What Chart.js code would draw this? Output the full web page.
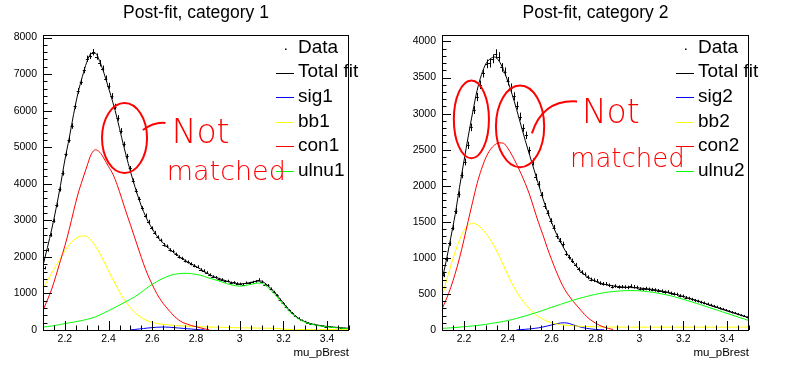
<!DOCTYPE html>
<html>
<head>
<meta charset="utf-8">
<title>Post-fit</title>
<script src="https://cdn.jsdelivr.net/npm/chart.js@4.4.1/dist/chart.umd.min.js"></script>
<style>
body { margin: 0; background: #fff; }
.pad { position: absolute; top: 0; width: 396px; height: 367px; }
</style>
</head>
<body>
<div class="pad" style="left:0"><canvas id="cat1"></canvas></div>
<div class="pad" style="left:396px"><canvas id="cat2"></canvas></div>
<script>

/*
========================================
DATA
========================================
*/

// x sampling of the fitted curves (mu_pBrest)
const xFit = [
  2.10, 2.12, 2.14, 2.16, 2.18, 2.20, 2.22, 2.24, 2.26, 2.28,
  2.30, 2.32, 2.34, 2.36, 2.38, 2.40, 2.42, 2.44, 2.46, 2.48,
  2.50, 2.52, 2.54, 2.56, 2.58, 2.60, 2.62, 2.64, 2.66, 2.68,
  2.70, 2.72, 2.74, 2.76, 2.78, 2.80, 2.82, 2.84, 2.86, 2.88,
  2.90, 2.92, 2.94, 2.96, 2.98, 3.00, 3.02, 3.04, 3.06, 3.08,
  3.10, 3.12, 3.14, 3.16, 3.18, 3.20, 3.22, 3.24, 3.26, 3.28,
  3.30, 3.32, 3.34, 3.36, 3.38, 3.40, 3.42, 3.44, 3.46, 3.48, 3.50
];

// bin centres of the data histogram
const xBins = [
  2.107, 2.121, 2.135, 2.149, 2.163, 2.177, 2.191, 2.205, 2.219, 2.233,
  2.247, 2.261, 2.275, 2.289, 2.303, 2.317, 2.331, 2.345, 2.359, 2.373,
  2.387, 2.401, 2.415, 2.429, 2.443, 2.457, 2.471, 2.485, 2.499, 2.513,
  2.527, 2.541, 2.555, 2.569, 2.583, 2.597, 2.611, 2.625, 2.639, 2.653,
  2.667, 2.681, 2.695, 2.709, 2.723, 2.737, 2.751, 2.765, 2.779, 2.793,
  2.807, 2.821, 2.835, 2.849, 2.863, 2.877, 2.891, 2.905, 2.919, 2.933,
  2.947, 2.961, 2.975, 2.989, 3.003, 3.017, 3.031, 3.045, 3.059, 3.073,
  3.087, 3.101, 3.115, 3.129, 3.143, 3.157, 3.171, 3.185, 3.199, 3.213,
  3.227, 3.241, 3.255, 3.269, 3.283, 3.297, 3.311, 3.325, 3.339, 3.353,
  3.367, 3.381, 3.395, 3.409, 3.423, 3.437, 3.451, 3.465, 3.479, 3.493
];

// tick labels
const xTicks = [2.2, 2.4, 2.6, 2.8, 3.0, 3.2, 3.4];
const xTickLabels = ["2.2", "2.4", "2.6", "2.8", "3", "3.2", "3.4"];
const yTicks1 = [0, 1000, 2000, 3000, 4000, 5000, 6000, 7000, 8000];
const yTicks2 = [0, 500, 1000, 1500, 2000, 2500, 3000, 3500, 4000];

// category 1
const data1 = [
  1700, 2190, 2600, 2990, 3420, 3850, 4290, 4820, 5200, 5580,
  6120, 6540, 6790, 7110, 7420, 7500, 7600, 7480, 7300, 7150,
  6880, 6680, 6400, 6110, 5800, 5450, 5080, 4750, 4420, 4080,
  3800, 3580, 3330, 3130, 2960, 2780, 2660, 2540, 2450, 2330,
  2290, 2190, 2150, 2070, 2000, 1960, 1890, 1860, 1810, 1760,
  1730, 1650, 1620, 1570, 1510, 1460, 1440, 1390, 1380, 1330,
  1340, 1290, 1300, 1270, 1260, 1240, 1290, 1280, 1310, 1330,
  1380, 1320, 1240, 1220, 1130, 1040, 950, 830, 740, 640,
  540, 470, 380, 330, 270, 235, 200, 170, 160, 130,
  125, 110, 95, 98, 85, 72, 70, 62, 55, 48
];
const total1 = [
  1760, 2250, 2760, 3330, 3960, 4650, 5250, 5900, 6480, 6930,
  7320, 7560, 7570, 7340, 7010, 6620, 6220, 5770, 5260, 4780,
  4340, 3930, 3560, 3240, 2980, 2770, 2580, 2440, 2320, 2210,
  2110, 2020, 1940, 1870, 1800, 1740, 1670, 1590, 1520, 1460,
  1420, 1380, 1340, 1300, 1275, 1260, 1270, 1290, 1315, 1340,
  1335, 1260, 1150, 1030, 885, 735, 590, 465, 360, 280,
  225, 183, 152, 130, 112, 97, 84, 74, 64, 54, 47
];
const sig1 = [
  null, null, null, null, null, null, null, null, null, null,
  null, null, null, null, null, null, null, null, null, null,
  3, 15, 28, 40, 55, 65, 75, 80, 80, 75,
  65, 55, 45, 35, 25, 15, 8, 3, null, null,
  null, null, null, null, null, null, null, null, null, null,
  null, null, null, null, null, null, null, null, null, null,
  null, null, null, null, null, null, null, null, null, null, null
];
const bb1 = [
  1140, 1350, 1560, 1760, 1960, 2170, 2330, 2460, 2540, 2575,
  2560, 2450, 2290, 2090, 1860, 1620, 1380, 1150, 940, 760,
  610, 480, 380, 300, 245, 205, 180, 160, 145, 135,
  125, 118, 112, 106, 100, 95, 90, 86, 82, 78,
  75, 72, 69, 66, 63, 61, 59, 57, 55, 53,
  51, 49, 47, 45, 38, 25, 18, 14, 12, 12,
  12, 12, 12, 12, 12, 12, 12, 12, 12, 12, 12
];
const con1 = [
  540, 820, 1120, 1500, 1900, 2300, 2750, 3250, 3720, 4100,
  4460, 4800, 4930, 4860, 4680, 4470, 4260, 3960, 3600, 3230,
  2880, 2520, 2160, 1810, 1500, 1240, 1000, 810, 650, 510,
  380, 280, 205, 160, 120, 90, 60, 30, 8, null,
  null, null, null, null, null, null, null, null, null, null,
  null, null, null, null, null, null, null, null, null, null,
  null, null, null, null, null, null, null, null, null, null, null
];
const ulnu1 = [
  80, 95, 110, 130, 150, 175, 195, 215, 240, 260,
  290, 320, 360, 410, 470, 530, 590, 650, 715, 780,
  840, 910, 990, 1080, 1170, 1250, 1320, 1390, 1440, 1490,
  1520, 1540, 1550, 1550, 1540, 1520, 1500, 1460, 1420, 1385,
  1350, 1310, 1270, 1235, 1210, 1200, 1210, 1235, 1260, 1285,
  1280, 1210, 1100, 980, 840, 700, 560, 440, 340, 265,
  210, 170, 140, 118, 100, 85, 72, 62, 52, 42, 35
];

// category 2
const data2 = [
  760, 980, 1200, 1420, 1650, 1880, 2150, 2330, 2560, 2810,
  3050, 3230, 3400, 3560, 3690, 3700, 3760, 3830, 3790, 3640,
  3580, 3450, 3360, 3240, 3110, 2960, 2800, 2700, 2490, 2330,
  2120, 2020, 1870, 1720, 1620, 1510, 1420, 1300, 1240, 1190,
  1060, 1010, 960, 900, 840, 800, 770, 730, 700, 690,
  680, 650, 640, 640, 620, 600, 610, 595, 600, 595,
  590, 610, 600, 590, 570, 565, 575, 565, 560, 555,
  545, 540, 525, 530, 510, 500, 495, 475, 470, 450,
  440, 425, 410, 400, 385, 375, 360, 345, 330, 320,
  300, 290, 275, 260, 245, 235, 220, 205, 195, 175
];
const total2 = [
  690, 970, 1280, 1600, 1980, 2340, 2690, 3020, 3320, 3540,
  3690, 3760, 3785, 3730, 3610, 3450, 3265, 3060, 2840, 2625,
  2420, 2220, 2020, 1825, 1650, 1490, 1345, 1225, 1110, 1015,
  935, 860, 795, 745, 705, 675, 652, 635, 622, 612,
  604, 598, 593, 589, 585, 581, 576, 570, 562, 553,
  542, 530, 516, 500, 483, 465, 447, 429, 410, 390,
  370, 350, 330, 310, 290, 270, 250, 230, 210, 190, 170
];
const sig2 = [
  null, null, null, null, null, null, null, null, null, null,
  null, null, null, null, null, null, null, 2, 5, 10,
  15, 22, 30, 42, 55, 70, 85, 97, 100, 90,
  70, 50, 35, 22, 14, 8, 4, 2, null, null,
  null, null, null, null, null, null, null, null, null, null,
  null, null, null, null, null, null, null, null, null, null,
  null, null, null, null, null, null, null, null, null, null, null
];
const bb2 = [
  460, 680, 890, 1080, 1250, 1380, 1455, 1480, 1460, 1410,
  1340, 1255, 1150, 1030, 900, 765, 640, 530, 440, 360,
  290, 230, 185, 150, 120, 100, 85, 75, 68, 62,
  57, 53, 50, 48, 46, 44, 43, 42, 41, 41,
  40, 40, 40, 40, 40, 40, 40, 40, 40, 40,
  40, 40, 40, 40, 40, 40, 40, 40, 40, 40,
  40, 40, 40, 40, 40, 40, 40, 40, 40, 40, 40
];
const con2 = [
  290, 430, 590, 780, 1000, 1250, 1520, 1780, 2030, 2230,
  2390, 2500, 2565, 2595, 2590, 2520, 2420, 2300, 2170, 2030,
  1870, 1680, 1490, 1320, 1140, 975, 820, 680, 560, 470,
  390, 320, 250, 185, 135, 95, 62, 38, 20, 8,
  null, null, null, null, null, null, null, null, null, null,
  null, null, null, null, null, null, null, null, null, null,
  null, null, null, null, null, null, null, null, null, null, null
];
const ulnu2 = [
  22, 26, 30, 35, 40, 45, 51, 57, 63, 70,
  78, 88, 98, 108, 118, 132, 145, 160, 178, 195,
  213, 232, 252, 272, 293, 315, 335, 355, 375, 395,
  415, 433, 450, 465, 480, 495, 507, 517, 526, 533,
  539, 543, 546, 547, 546, 543, 538, 531, 523, 513,
  502, 490, 476, 460, 443, 425, 407, 389, 370, 350,
  330, 310, 290, 270, 250, 230, 210, 190, 170, 150, 130
];

// hand-written marks (data coordinates): ellipse = [cx, cy, rx, ry]
const marks1 = {
  ellipses: [[2.473, 5253, 0.103, 957]],
  stroke: [[2.557, 5472], [2.61, 5700], [2.66, 5664]],
  words: [["Not", 2.689, 5116, 33], ["matched", 2.666, 4104, 27]]
};
const marks2 = {
  ellipses: [[2.234, 2920, 0.080, 540], [2.456, 2823, 0.110, 567]],
  stroke: [[2.510, 2726], [2.56, 3200], [2.716, 3169]],
  words: [["Not", 2.738, 2865, 33], ["matched", 2.684, 2256, 26]]
};


/*
========================================
HELPERS
========================================
*/

const FONT = "'Liberation Sans', Arial, sans-serif";
const HAND = "200 {s}px 'DejaVu Sans', 'Liberation Sans', sans-serif";

function toPoints(xs, ys) {
  return xs.map(function(x, i) { return { x: x, y: ys[i] }; });
}

// ROOT look: frame, inside ticks, title, legend, error bars
function rootLook(cfg) {
  return {
    id: "rootLook",

    beforeDatasetsDraw(chart) {
      const ctx = chart.ctx;
      const a = chart.chartArea;
      const sx = chart.scales.x;
      const sy = chart.scales.y;
      ctx.save();
      ctx.beginPath();
      ctx.rect(a.left, a.top, a.right - a.left, a.bottom - a.top);
      ctx.clip();
      ctx.strokeStyle = "#000";
      ctx.lineWidth = 1;
      chart.data.datasets.forEach(function(ds) {
        if (!ds.errorBars) return;
        ctx.beginPath();
        ds.data.forEach(function(p) {
          const e = Math.sqrt(p.y);
          const px = Math.round(sx.getPixelForValue(p.x)) + 0.5;
          const py = Math.round(sy.getPixelForValue(p.y)) + 0.5;
          ctx.moveTo(px, sy.getPixelForValue(p.y - e));
          ctx.lineTo(px, sy.getPixelForValue(p.y + e));
          ctx.moveTo(sx.getPixelForValue(p.x - ds.halfBin), py);
          ctx.lineTo(sx.getPixelForValue(p.x + ds.halfBin), py);
        });
        ctx.stroke();
      });
      ctx.restore();
    },

    afterDraw(chart) {
      const ctx = chart.ctx;
      const a = chart.chartArea;
      const sx = chart.scales.x;
      const sy = chart.scales.y;
      ctx.save();

      // frame
      ctx.strokeStyle = "#000";
      ctx.lineWidth = 1;
      ctx.strokeRect(a.left + 0.5, a.top + 0.5, a.right - a.left - 1, a.bottom - a.top);

      // ticks inside the frame
      ctx.beginPath();
      for (let k = 0; ; k++) {
        const v = sx.min + k * 0.05;
        if (v > sx.max + 1e-9) break;
        const major = Math.abs(v / 0.2 - Math.round(v / 0.2)) < 1e-6;
        const px = Math.round(sx.getPixelForValue(v)) + 0.5;
        ctx.moveTo(px, a.bottom);
        ctx.lineTo(px, a.bottom - (major ? 9 : 4.5));
      }
      for (let k = 0; ; k++) {
        const v = k * cfg.yMinor;
        if (v > sy.max) break;
        const major = v % cfg.yMajor === 0;
        const py = Math.round(sy.getPixelForValue(v)) + 0.5;
        ctx.moveTo(a.left, py);
        ctx.lineTo(a.left + (major ? 9 : 4.5), py);
      }
      ctx.stroke();

      // title
      ctx.fillStyle = "#000";
      ctx.font = "17.5px " + FONT;
      ctx.textAlign = "center";
      ctx.textBaseline = "alphabetic";
      ctx.fillText(cfg.title, (a.left + a.right) / 2, 17.5);

      // axis title
      ctx.font = "11.5px " + FONT;
      ctx.textAlign = "right";
      ctx.fillText("mu_pBrest", a.right, 355.5);

      // legend
      ctx.font = "19px " + FONT;
      ctx.textAlign = "left";
      chart.data.datasets.forEach(function(ds, i) {
        const yc = a.top + 11 + i * 24.6;
        const ly = Math.round(yc + 2) + 0.5;
        if (ds.errorBars) {
          ctx.fillStyle = "#000";
          ctx.fillRect(a.right - 64, yc + 2.5, 1.5, 1.5);
        } else {
          ctx.strokeStyle = ds.borderColor;
          ctx.beginPath();
          ctx.moveTo(a.right - 73, ly);
          ctx.lineTo(a.right - 55, ly);
          ctx.stroke();
        }
        ctx.fillStyle = "#000";
        ctx.fillText(ds.label, a.right - 51, yc + 6.8);
      });

      // red hand-written remarks
      const m = cfg.marks;
      ctx.strokeStyle = "#f00";
      ctx.fillStyle = "#f00";
      ctx.lineWidth = 2;
      m.ellipses.forEach(function(e) {
        const cx = sx.getPixelForValue(e[0]);
        const cy = sy.getPixelForValue(e[1]);
        const rx = Math.abs(sx.getPixelForValue(e[0] + e[2]) - cx);
        const ry = Math.abs(sy.getPixelForValue(e[1] + e[3]) - cy);
        ctx.beginPath();
        ctx.ellipse(cx, cy, rx, ry, 0, 0, Math.PI * 2);
        ctx.stroke();
      });
      const s = m.stroke;
      ctx.beginPath();
      ctx.moveTo(sx.getPixelForValue(s[0][0]), sy.getPixelForValue(s[0][1]));
      ctx.quadraticCurveTo(
        sx.getPixelForValue(s[1][0]), sy.getPixelForValue(s[1][1]),
        sx.getPixelForValue(s[2][0]), sy.getPixelForValue(s[2][1])
      );
      ctx.stroke();
      m.words.forEach(function(w) {
        ctx.font = HAND.replace("{s}", w[3]);
        ctx.fillText(w[0], sx.getPixelForValue(w[1]), sy.getPixelForValue(w[2]));
      });

      ctx.restore();
    }
  };
}

function makeChart(id, cfg) {
  const line = function(label, xs, ys, color, order) {
    return {
      label: label,
      data: toPoints(xs, ys),
      borderColor: color,
      backgroundColor: color,
      borderWidth: 1,
      pointRadius: 0,
      cubicInterpolationMode: "monotone",
      order: order
    };
  };

  new Chart(document.getElementById(id), {
    type: "line",
    data: {
      datasets: [
        {
          label: "Data",
          data: toPoints(xBins, cfg.data),
          showLine: false,
          pointRadius: 0,
          borderColor: "#000",
          errorBars: true,
          halfBin: 0.007,
          order: 6
        },
        line("Total fit", xFit, cfg.total, "#000000", 5),
        line(cfg.names[0], xFit, cfg.sig, "#0000ff", 4),
        line(cfg.names[1], xFit, cfg.bb, "#ffff00", 3),
        line(cfg.names[2], xFit, cfg.con, "#ff0000", 2),
        line(cfg.names[3], xFit, cfg.ulnu, "#00ff00", 1)
      ]
    },
    options: {
      responsive: true,
      maintainAspectRatio: false,
      animation: false,
      layout: { padding: { top: 35, right: cfg.rightPad, left: 0, bottom: 0 } },
      plugins: {
        legend: { display: false },
        tooltip: { enabled: false }
      },
      scales: {
        x: {
          type: "linear",
          min: 2.1,
          max: 3.5,
          afterBuildTicks: function(scale) {
            scale.ticks = xTicks.map(function(v) { return { value: v }; });
          },
          afterFit: function(scale) { scale.height = 37; },
          grid: { display: false, drawTicks: false },
          border: { display: false },
          ticks: {
            autoSkip: false,
            maxRotation: 0,
            padding: 3,
            color: "#000",
            font: { family: FONT, size: 10.5 },
            callback: function(v, i) { return xTickLabels[i]; }
          }
        },
        y: {
          type: "linear",
          min: 0,
          max: cfg.yMax,
          afterBuildTicks: function(scale) {
            scale.ticks = cfg.yTicks.map(function(v) { return { value: v }; });
          },
          afterFit: function(scale) { scale.width = cfg.leftWidth; },
          grid: { display: false, drawTicks: false },
          border: { display: false },
          ticks: {
            padding: 6,
            color: "#000",
            font: { family: FONT, size: 10.5 },
            callback: function(v, i) { return String(cfg.yTicks[i]); }
          }
        }
      }
    },
    plugins: [rootLook(cfg)]
  });
}


/*
========================================
CHARTS
========================================
*/

makeChart("cat1", {
  title: "Post-fit, category 1",
  names: ["sig1", "bb1", "con1", "ulnu1"],
  data: data1, total: total1, sig: sig1, bb: bb1, con: con1, ulnu: ulnu1,
  yMax: 8070, yTicks: yTicks1, yMajor: 1000, yMinor: 200,
  leftWidth: 43, rightPad: 47,
  marks: marks1
});

makeChart("cat2", {
  title: "Post-fit, category 2",
  names: ["sig2", "bb2", "con2", "ulnu2"],
  data: data2, total: total2, sig: sig2, bb: bb2, con: con2, ulnu: ulnu2,
  yMax: 4090, yTicks: yTicks2, yMajor: 500, yMinor: 100,
  leftWidth: 46, rightPad: 43,
  marks: marks2
});
</script>
</body>
</html>
